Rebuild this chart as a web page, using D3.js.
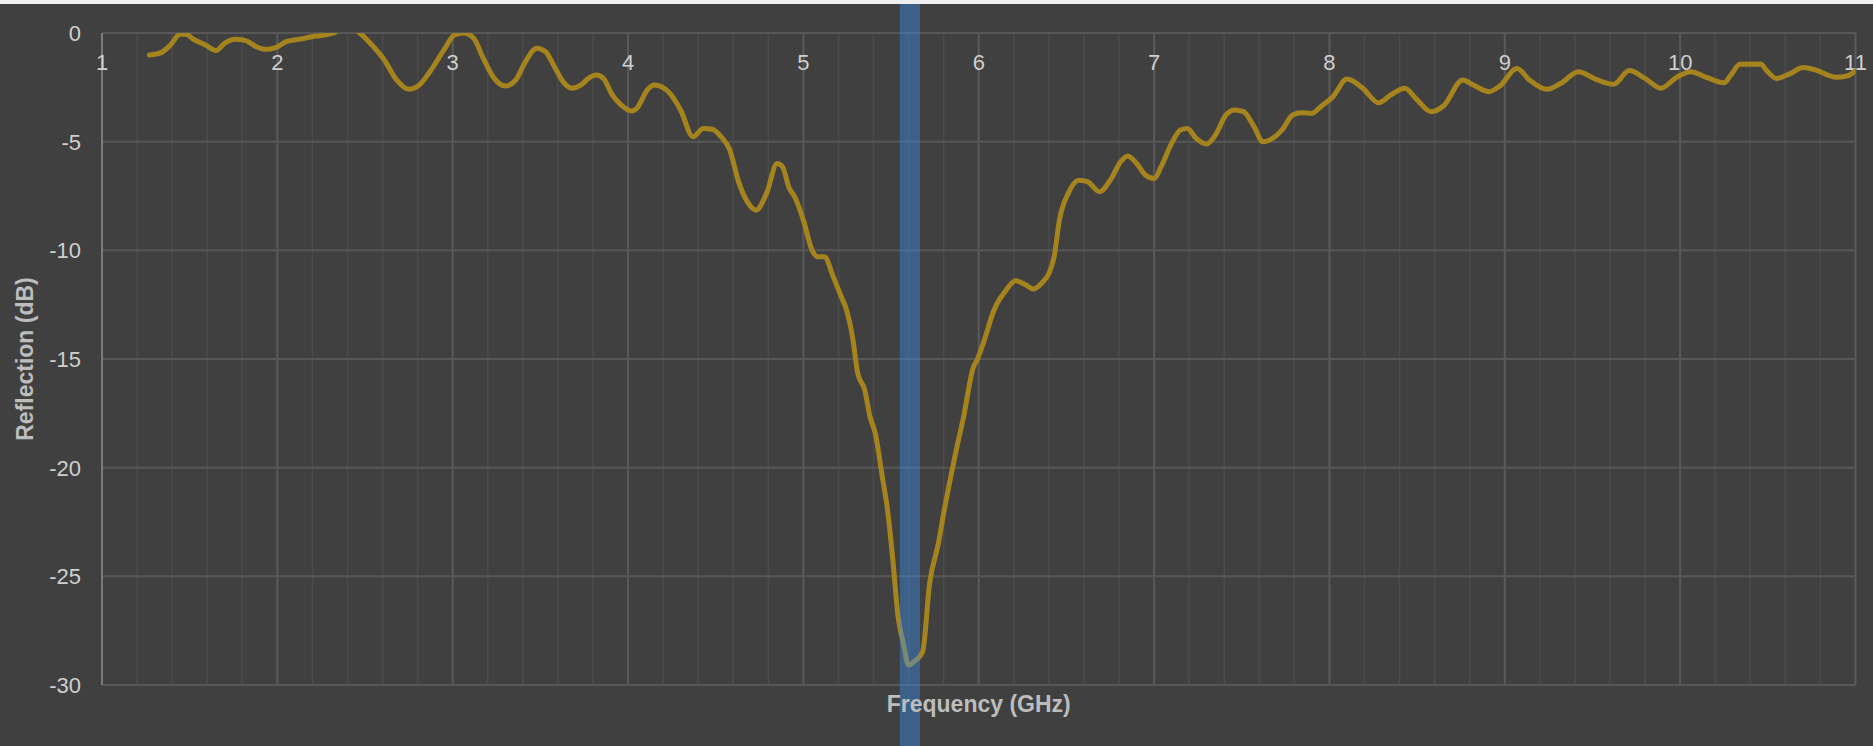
<!DOCTYPE html>
<html>
<head>
<meta charset="utf-8">
<script src="https://cdn.jsdelivr.net/npm/d3@7"></script>
<style>
  html, body { margin: 0; padding: 0; background: #404040; }
  svg { display: block; font-family: "Liberation Sans", Arial, sans-serif; }
</style>
</head>
<body>
<svg id="chart" width="1873" height="746"></svg>
<script>
// frequency (GHz) and reflection (dB)
var freqs = [1.27, 1.34, 1.39, 1.445, 1.48, 1.52, 1.59, 1.65, 1.70, 1.76, 1.82, 1.88, 1.93, 1.99,
  2.05, 2.13, 2.22, 2.26, 2.32, 2.40, 2.47, 2.53, 2.61, 2.68, 2.75, 2.81, 2.87, 2.95,
  3.01, 3.06, 3.12, 3.17, 3.23, 3.30, 3.36, 3.41, 3.48, 3.53, 3.58, 3.63, 3.68, 3.73, 3.78, 3.82, 3.86, 3.91, 3.96,
  4.02, 4.05, 4.11, 4.15, 4.23, 4.30, 4.37, 4.43, 4.48, 4.53, 4.58, 4.63, 4.68, 4.73, 4.79, 4.85, 4.88, 4.92, 4.95,
  5.00, 5.05, 5.08, 5.12, 5.17, 5.22, 5.24, 5.28, 5.31, 5.35, 5.38, 5.41, 5.45, 5.48, 5.51, 5.54, 5.57, 5.60, 5.63, 5.68,
  5.72, 5.77, 5.80, 5.86, 5.88, 5.91, 5.97, 5.99,
  6.05, 6.07, 6.10, 6.15, 6.21, 6.27, 6.31, 6.36, 6.40, 6.43, 6.46, 6.51, 6.57, 6.62, 6.69, 6.75, 6.81, 6.85, 6.90, 6.95,
  7.00, 7.04, 7.10, 7.15, 7.19, 7.24, 7.30, 7.35, 7.41, 7.46, 7.51, 7.57, 7.62, 7.66, 7.73, 7.79, 7.84, 7.90, 7.95,
  8.02, 8.10, 8.19, 8.28, 8.35, 8.43, 8.50, 8.58, 8.65, 8.76, 8.82, 8.91, 8.97,
  9.07, 9.14, 9.24, 9.32, 9.42, 9.52, 9.62, 9.71, 9.80, 9.89, 9.98,
  10.06, 10.15, 10.25, 10.29, 10.34, 10.46, 10.49, 10.55, 10.63, 10.70, 10.76, 10.89, 10.95, 11.00];
var reflection = [-1.01, -0.89, -0.55, -0.06, -0.06, -0.28, -0.55, -0.81, -0.47, -0.29, -0.35, -0.63, -0.75, -0.67,
  -0.40, -0.28, -0.14, -0.10, 0.0, 0.35, 0.0, -0.47, -1.24, -2.16, -2.59, -2.39, -1.78, -0.78,
  -0.09, 0.0, -0.24, -1.09, -2.01, -2.44, -2.16, -1.39, -0.70, -0.86, -1.55, -2.25, -2.54, -2.40, -2.05, -1.93, -2.09, -2.85, -3.31,
  -3.59, -3.47, -2.62, -2.39, -2.70, -3.54, -4.77, -4.39, -4.43, -4.77, -5.38, -6.84, -7.76, -8.15, -7.38, -6.0, -6.15, -7.15, -7.53,
  -8.61, -10.0, -10.29, -10.29, -11.21, -12.21, -12.6, -13.98, -15.66, -16.43, -17.66, -18.42, -20.42, -21.95, -24.25, -26.86, -28.09, -29.08, -28.93, -28.47,
  -25.32, -23.48, -22.10, -19.65, -18.88, -17.81, -15.36, -15.05,
  -13.67, -13.13, -12.52, -11.90, -11.40, -11.60, -11.78, -11.5, -11.06, -10.29, -8.61, -7.38, -6.77, -6.84, -7.30, -6.77, -5.92, -5.66, -6.0, -6.53,
  -6.69, -6.15, -5.08, -4.46, -4.39, -4.85, -5.11, -4.69, -3.77, -3.54, -3.62, -4.31, -5.0, -4.92, -4.46, -3.77, -3.67, -3.70, -3.39,
  -2.93, -2.12, -2.54, -3.21, -2.85, -2.54, -3.08, -3.62, -3.36, -2.16, -2.39, -2.70, -2.45,
  -1.63, -2.16, -2.59, -2.31, -1.78, -2.13, -2.36, -1.73, -2.09, -2.54, -2.04,
  -1.78, -2.04, -2.29, -1.93, -1.44, -1.43, -1.70, -2.09, -1.86, -1.59, -1.67, -2.04, -1.98, -1.73];

var xTicks = [1, 2, 3, 4, 5, 6, 7, 8, 9, 10, 11];
var yTicks = [0, -5, -10, -15, -20, -25, -30];
var band = [5.55, 5.665];   // highlighted resonance band

var svg = d3.select("#chart");
var W = 1873, H = 746;
// note: "top" is taken by window.top, so plot edges get their own names
var plotL = 102, plotR = 1855.5, plotT = 33, plotB = 685;

var x = d3.scaleLinear().domain([1, 11]).range([plotL, plotR]);
var y = d3.scaleLinear().domain([-30, 0]).range([plotB, plotT]);

svg.append("rect").attr("width", W).attr("height", 4).attr("fill", "#f0f0f0");

// vertical grid, minor every 0.2 GHz
var minor = d3.range(0, 51).map(function(i) { return 1 + i * 0.2; });
svg.append("g").selectAll("line")
  .data(minor).enter().append("line")
  .attr("x1", function(d) { return x(d); }).attr("x2", function(d) { return x(d); })
  .attr("y1", plotT).attr("y2", plotB)
  .attr("stroke", function(d, i) { return i % 5 === 0 ? "#5a5a5a" : "#4b4b4b"; })
  .attr("stroke-width", function(d, i) { return i % 5 === 0 ? 2 : 1.5; });

// horizontal grid
svg.append("g").selectAll("line")
  .data(yTicks).enter().append("line")
  .attr("x1", plotL).attr("x2", plotR)
  .attr("y1", function(d) { return y(d); }).attr("y2", function(d) { return y(d); })
  .attr("stroke", "#575757").attr("stroke-width", 2);

// left axis line
svg.append("line").attr("x1", plotL).attr("x2", plotL).attr("y1", plotT).attr("y2", plotB)
  .attr("stroke", "#7a7a7a").attr("stroke-width", 2);

// tick labels
svg.append("g").selectAll("text")
  .data(yTicks).enter().append("text")
  .attr("x", 81).attr("y", function(d) { return y(d); })
  .attr("dy", "0.36em").attr("text-anchor", "end")
  .attr("fill", "#cfcfcf").attr("font-size", 22)
  .text(function(d) { return d; });

svg.append("g").selectAll("text")
  .data(xTicks).enter().append("text")
  .attr("x", function(d) { return x(d); }).attr("y", 70)
  .attr("text-anchor", "middle")
  .attr("fill", "#cfcfcf").attr("font-size", 22)
  .text(function(d) { return d; });

// trace
var pts = freqs.map(function(f, i) { return { f: f, v: reflection[i] }; });
svg.append("clipPath").attr("id", "plotclip")
  .append("rect").attr("x", plotL).attr("y", plotT).attr("width", plotR - plotL).attr("height", plotB - plotT);

var line = d3.line()
  .x(function(d) { return x(d.f); })
  .y(function(d) { return y(d.v); })
  .curve(d3.curveMonotoneX);

svg.append("path")
  .datum(pts)
  .attr("clip-path", "url(#plotclip)")
  .attr("d", line)
  .attr("fill", "none")
  .attr("stroke", "#a6841d")
  .attr("stroke-width", 5)
  .attr("stroke-linejoin", "round")
  .attr("stroke-linecap", "round");

// highlight band
svg.append("rect")
  .attr("x", x(band[0])).attr("width", x(band[1]) - x(band[0]))
  .attr("y", 4).attr("height", H - 4)
  .attr("fill", "rgb(56,144,244)").attr("fill-opacity", 0.4);

// axis titles
svg.append("text")
  .attr("x", (plotL + plotR) / 2).attr("y", 712)
  .attr("text-anchor", "middle")
  .attr("fill", "#bdbdbd").attr("font-size", 23).attr("font-weight", "bold")
  .text("Frequency (GHz)");

svg.append("text")
  .attr("transform", "translate(33," + (plotT + plotB) / 2 + ") rotate(-90)")
  .attr("text-anchor", "middle")
  .attr("fill", "#bdbdbd").attr("font-size", 23).attr("font-weight", "bold")
  .text("Reflection (dB)");
</script>
</body>
</html>
